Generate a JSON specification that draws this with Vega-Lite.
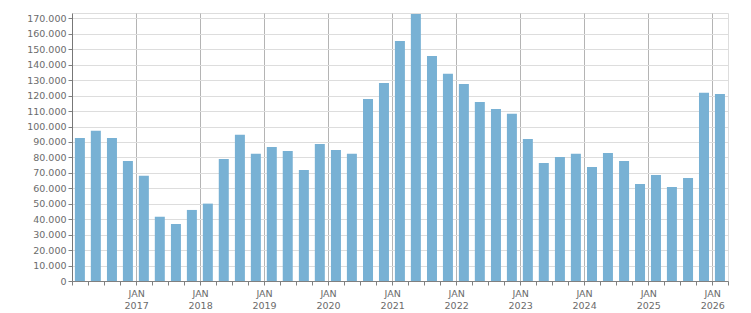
{
  "$schema": "https://vega.github.io/schema/vega-lite/v6.json",
  "width": 656,
  "height": 268,
  "autosize": "none",
  "padding": {"left": 72, "top": 13, "right": 23, "bottom": 32},
  "config": {
    "view": {"stroke": "#dddddd"},
    "font": "DejaVu Sans",
    "axis": {"labelFont": "DejaVu Sans", "labelFontSize": 9.5, "labelColor": "#6b6b6b", "domainColor": "#808080", "tickColor": "#808080", "gridColor": "#dddddd", "title": null}
  },
  "data": {"values": [
    {"date": "2016-02-15", "value": 92600},
    {"date": "2016-05-16", "value": 97200},
    {"date": "2016-08-16", "value": 92600},
    {"date": "2016-11-15", "value": 77700},
    {"date": "2017-02-14", "value": 68200},
    {"date": "2017-05-16", "value": 41600},
    {"date": "2017-08-16", "value": 36900},
    {"date": "2017-11-15", "value": 46000},
    {"date": "2018-02-14", "value": 50100},
    {"date": "2018-05-16", "value": 79000},
    {"date": "2018-08-16", "value": 94600},
    {"date": "2018-11-15", "value": 82300},
    {"date": "2019-02-14", "value": 86800},
    {"date": "2019-05-16", "value": 84200},
    {"date": "2019-08-16", "value": 71900},
    {"date": "2019-11-15", "value": 88700},
    {"date": "2020-02-15", "value": 84800},
    {"date": "2020-05-16", "value": 82300},
    {"date": "2020-08-16", "value": 117900},
    {"date": "2020-11-15", "value": 128200},
    {"date": "2021-02-14", "value": 155400},
    {"date": "2021-05-16", "value": 172900},
    {"date": "2021-08-16", "value": 145700},
    {"date": "2021-11-15", "value": 134100},
    {"date": "2022-02-14", "value": 127600},
    {"date": "2022-05-16", "value": 115900},
    {"date": "2022-08-16", "value": 111400},
    {"date": "2022-11-15", "value": 108200},
    {"date": "2023-02-14", "value": 92000},
    {"date": "2023-05-16", "value": 76400},
    {"date": "2023-08-16", "value": 80300},
    {"date": "2023-11-15", "value": 82300},
    {"date": "2024-02-15", "value": 73800},
    {"date": "2024-05-16", "value": 82900},
    {"date": "2024-08-16", "value": 77700},
    {"date": "2024-11-15", "value": 62800},
    {"date": "2025-02-14", "value": 68700},
    {"date": "2025-05-16", "value": 60900},
    {"date": "2025-08-16", "value": 66700},
    {"date": "2025-11-15", "value": 121800},
    {"date": "2026-02-14", "value": 121100}
  ]},
  "mark": {"type": "bar", "width": 10, "color": "#78b1d4"},
  "encoding": {
    "x": {
      "field": "date",
      "type": "temporal",
      "scale": {"type": "utc", "domain": ["2016-01-01", "2026-04-01"], "nice": false, "padding": 0},
      "axis": {
        "tickCount": {"interval": "month", "step": 3},
        "grid": true,
        "gridColor": {"condition": {"test": "utcmonth(datum.value) == 0 && utcyear(datum.value) > 2016", "value": "#b4b4b4"}, "value": "transparent"},
        "tickSize": 4,
        "labelPadding": 3,
        "labelLineHeight": 12,
        "labelExpr": "utcmonth(datum.value) == 0 && utcyear(datum.value) > 2016 ? ['JAN', '' + utcyear(datum.value)] : ''",
        "labelOverlap": false,
        "labelFlush": false
      }
    },
    "y": {
      "field": "value",
      "type": "quantitative",
      "scale": {"domain": [0, 173500], "nice": false, "zero": true},
      "axis": {
        "values": [0, 10000, 20000, 30000, 40000, 50000, 60000, 70000, 80000, 90000, 100000, 110000, 120000, 130000, 140000, 150000, 160000, 170000],
        "labelExpr": "replace(format(datum.value, ','), ',', '.')",
        "tickSize": 4,
        "labelPadding": 2,
        "domainColor": "#777777",
        "labelOverlap": false
      }
    }
  }
}
